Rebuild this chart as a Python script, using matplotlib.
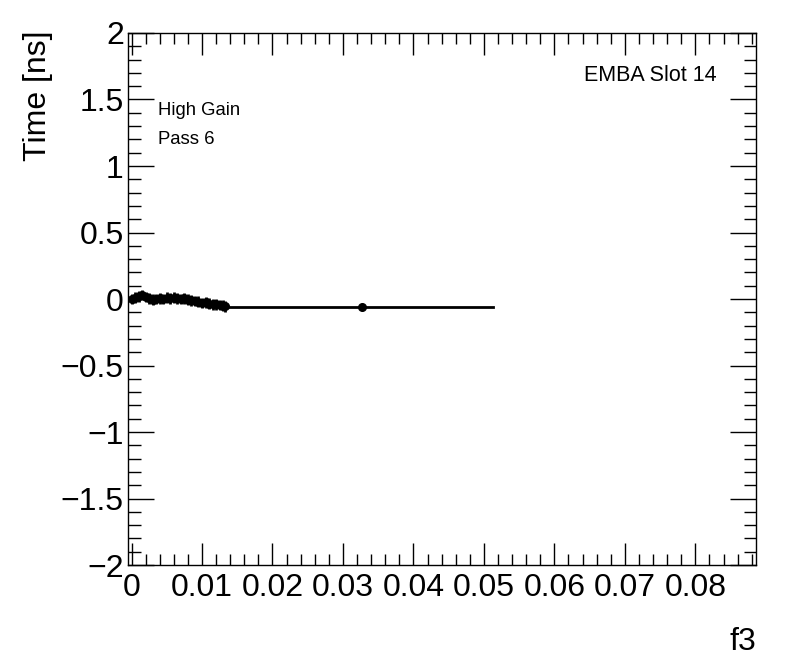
import numpy as np
from matplotlib import pyplot as plt
from matplotlib.ticker import MultipleLocator

plt.rcParams['font.family'] = ['Liberation Sans', 'DejaVu Sans']

# channel scan points (f3 vs time)
f3 = [0.0000, 0.0005, 0.0010, 0.0015, 0.0020, 0.0025, 0.0030, 0.0035, 0.0040,
      0.0045, 0.0050, 0.0055, 0.0060, 0.0065, 0.0070, 0.0075, 0.0080, 0.0085,
      0.0090, 0.0095, 0.0100, 0.0105, 0.0110, 0.0115, 0.0120, 0.0125, 0.0130,
      0.0133, 0.0327]
times = [0.000, 0.010, 0.020, 0.030, 0.015, 0.005, -0.005, 0.000, 0.005,
         0.000, 0.010, 0.005, 0.010, 0.005, 0.000, 0.005, -0.005, -0.010,
         -0.015, -0.020, -0.030, -0.025, -0.035, -0.040, -0.040, -0.045, -0.050,
         -0.055, -0.058]
errs = [0.04] * 28 + [0.0]

fit_x = [0.0133, 0.0513]
fit_y = [-0.058, -0.058]

fig = plt.figure(figsize=(7.96, 6.72), dpi=100)
ax = fig.add_axes([0.1608, 0.1592, 0.7889, 0.7917])

ax.plot(fit_x, fit_y, color='black', lw=2, zorder=2)
ax.errorbar(f3, times, yerr=errs, fmt='o', color='black', ms=5.5, elinewidth=2,
            capsize=0, zorder=3)

ax.set_xlim(-0.0005, 0.0886)
ax.set_ylim(-2, 2)
ax.xaxis.set_major_locator(MultipleLocator(0.01))
ax.xaxis.set_minor_locator(MultipleLocator(0.002))
ax.yaxis.set_major_locator(MultipleLocator(0.5))
ax.yaxis.set_minor_locator(MultipleLocator(0.1))
ax.set_xticks([0, 0.01, 0.02, 0.03, 0.04, 0.05, 0.06, 0.07, 0.08])
ax.set_xticklabels(['0', '0.01', '0.02', '0.03', '0.04', '0.05', '0.06', '0.07', '0.08'])
ax.set_yticks([-2, -1.5, -1, -0.5, 0, 0.5, 1, 1.5, 2])
ax.set_yticklabels(['\u22122', '\u22121.5', '\u22121', '\u22120.5', '0', '0.5', '1', '1.5', '2'])

ax.tick_params(which='both', direction='in', top=True, right=True, labelsize=23, width=1)
ax.tick_params(axis='x', which='major', length=16, pad=6)
ax.tick_params(axis='x', which='minor', length=8)
ax.tick_params(axis='y', which='major', length=19, pad=3)
ax.tick_params(axis='y', which='minor', length=9)
for s in ax.spines.values():
    s.set_linewidth(1)

fig.text(0.048, 0.955, 'Time [ns]', rotation=90, ha='center', va='top', fontsize=23)
fig.text(0.950, 0.022, 'f3', ha='right', va='bottom', fontsize=23)

ax.text(0.048, 0.846, 'High Gain', transform=ax.transAxes, fontsize=13.3)
ax.text(0.048, 0.792, 'Pass 6', transform=ax.transAxes, fontsize=13.3)
ax.text(0.937, 0.91, 'EMBA Slot 14', transform=ax.transAxes, ha='right', fontsize=15.5)

fig.savefig('out.png', dpi=100)
